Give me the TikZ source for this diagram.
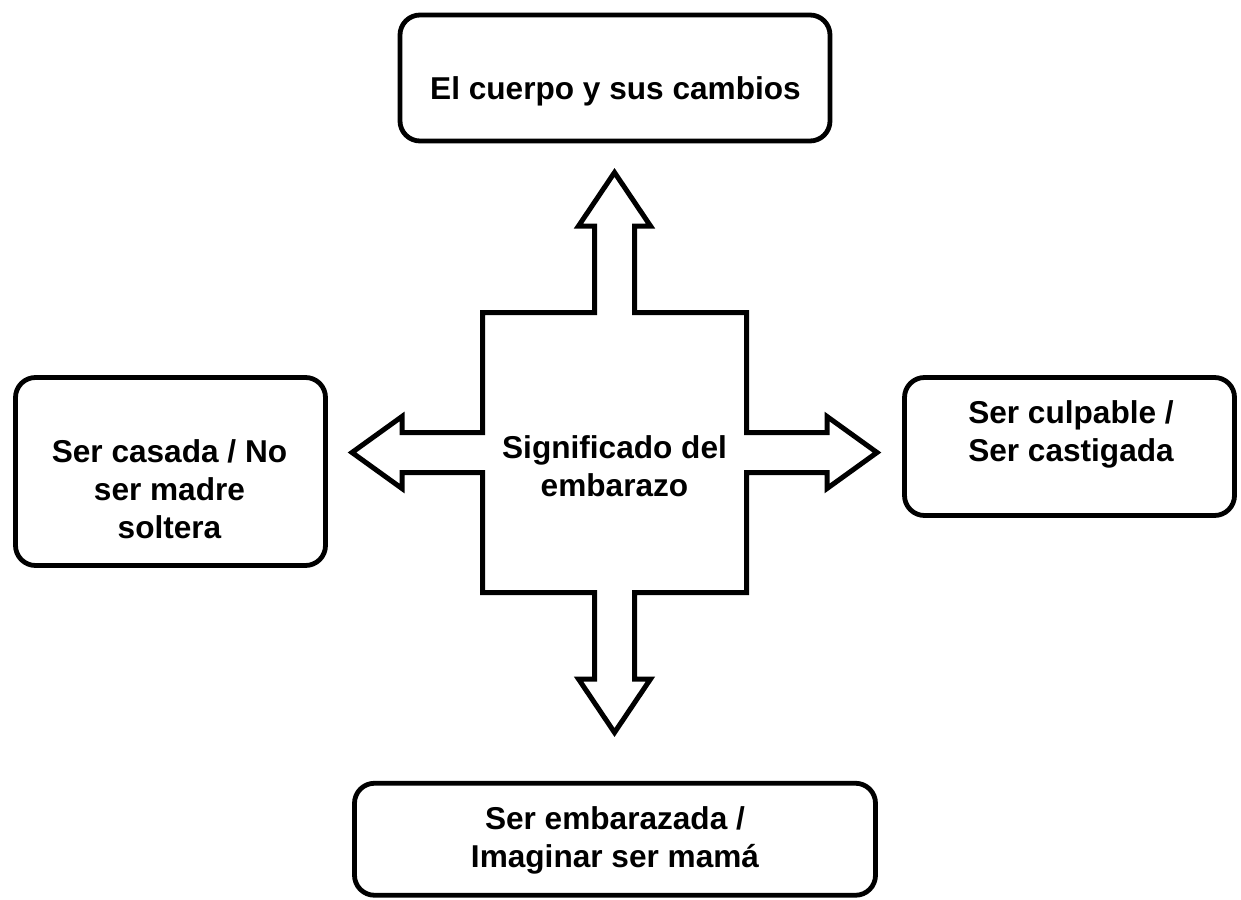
\documentclass[tikz,border=0pt]{standalone}
\usepackage{fontspec}
\setmainfont{Liberation Sans}
\tikzset{
  caja/.style={rectangle,draw=black,line width=2.4pt,rounded corners=10pt,fill=white,inner sep=0pt},
  texto/.style={font=\fontsize{15.8}{19}\selectfont\bfseries,align=center,inner sep=0pt},
  flecha/.style={draw=black,line width=2.5pt,fill=white,line join=miter},
}

\begin{document}
\begin{tikzpicture}[x=0.5pt,y=-0.5pt]
	    \fill[white] (0,0) rectangle (1241,899);
	    \useasboundingbox (0,0) rectangle (1241,899);
	    % cajas
	    \node[caja,minimum width=215pt,minimum height=63pt] (cuerpo) at (615,78) {};
	    \node[caja,minimum width=155pt,minimum height=94pt] (casada) at (170.5,471.5) {};
	    \node[caja,minimum width=165pt,minimum height=69pt] (culpable) at (1069.5,446.5) {};
	    \node[caja,minimum width=260.5pt,minimum height=56pt] (embarazada) at (615,839.25) {};
	    \node[texto] (cuerpo-t) at (615.5,91) {El cuerpo y sus cambios};
	    \node[texto] (casada-t) at (169.5,489.5) {Ser casada / No\\ser madre\\soltera};
	    \node[texto] (culpable-t) at (1071,434) {Ser culpable /\\Ser castigada};
	    \node[texto] (embarazada-t) at (615,840) {Ser embarazada /\\Imaginar ser mamá};
	    % flecha de cuatro puntas
	    \begin{scope}[shift={(614.5,452.5)}]
	    \draw[flecha] (-132,-140) -- (-20,-140) -- (-20,-226.5) -- (-36,-226.5) -- (0,-280)
	      -- (36,-226.5) -- (20,-226.5) -- (20,-140) -- (132,-140) -- (132,-20)
	      -- (212.5,-20) -- (212.5,-36) -- (262.5,0) -- (212.5,36) -- (212.5,20)
	      -- (132,20) -- (132,140) -- (20,140) -- (20,226.5) -- (36,226.5) -- (0,280)
	      -- (-36,226.5) -- (-20,226.5) -- (-20,140) -- (-132,140) -- (-132,20)
	      -- (-212.5,20) -- (-212.5,36) -- (-262.5,0) -- (-212.5,-36) -- (-212.5,-20)
	      -- (-132,-20) -- cycle;
	    \end{scope}
	    \node[texto] (significado) at (614.5,466.5) {Significado del\\embarazo};
\end{tikzpicture}
\end{document}
